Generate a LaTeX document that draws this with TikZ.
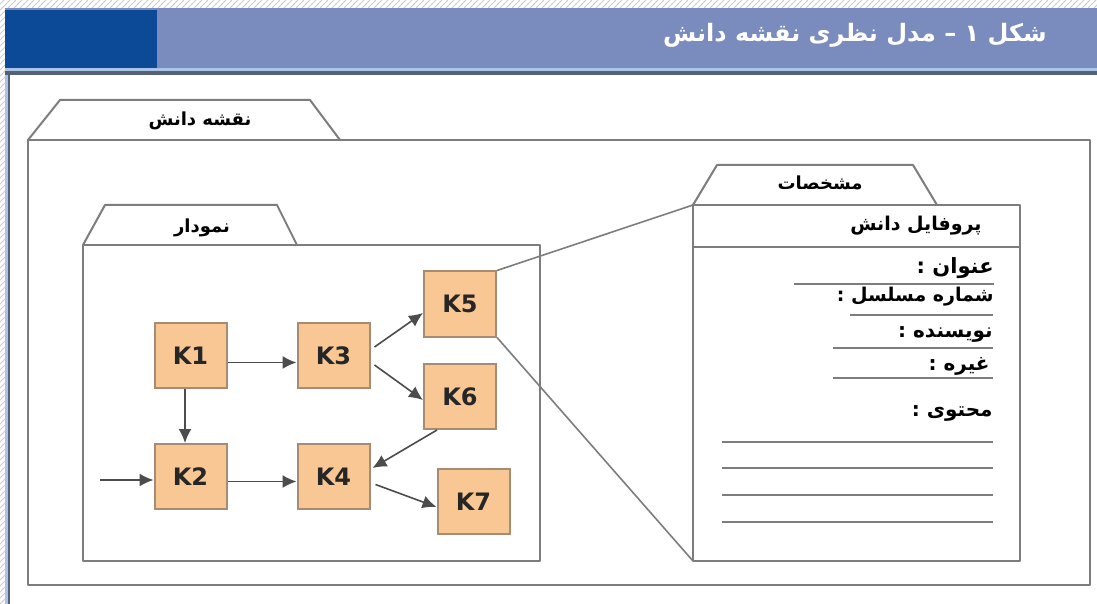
\documentclass[tikz,border=0pt]{standalone}
\usepackage{fontspec}
\usetikzlibrary{positioning, calc, arrows.meta, patterns}
\TeXXeTstate=1
\newfontfamily\arabicfont[Script=Arabic]{DejaVu Sans}
\newfontfamily\kfont{DejaVu Sans}
\definecolor{headblue}{RGB}{122,139,189}
\definecolor{darkblue}{RGB}{12,74,152}
\definecolor{stripeblue}{RGB}{170,195,230}
\definecolor{edgegray}{RGB}{84,98,118}
\definecolor{peach}{RGB}{249,199,148}
\definecolor{peachedge}{RGB}{165,140,115}
\definecolor{framegray}{RGB}{125,125,125}
\tikzset{
    kbox/.style={draw=peachedge, fill=peach, line width=1pt, minimum width=36pt, minimum height=32.5pt,
        font=\kfont\bfseries\fontsize{12}{14}\selectfont, text=black!85},
    flow/.style={-{Latex[length=7pt,width=6.5pt]}, draw=black!70, line width=0.8pt},
    folder/.style={draw=framegray, line width=1pt, line join=round},
    rule/.style={draw=framegray, line width=0.9pt},
    fa/.style={font=\arabicfont\bfseries\fontsize{#1}{#1}\selectfont, inner sep=0pt},
    fa/.default=9
}

\begin{document}
\begin{tikzpicture}[x=0.5pt, y=-0.5pt]
        \useasboundingbox (0,0) rectangle (1097,604);
        %Background and header
        \fill[white] (0,0) rectangle (1097,604);
        \fill[pattern=north east lines, pattern color=gray!40] (0,0) rectangle (1097,8);
        \fill[pattern=north east lines, pattern color=gray!40] (0,8) rectangle (5,604);
        \fill[headblue] (5,8) rectangle (1097,68);
        \fill[darkblue] (5,10) rectangle (157,68);
        \fill[stripeblue] (5,68) rectangle (1097,71);
        \fill[edgegray] (5,71) rectangle (1097,75);
        \fill[stripeblue] (5,75) rectangle (8,604);
        \fill[edgegray] (8,75) rectangle (10,604);
        \node[fa=12, text=white, anchor=east] (title) at (1047,35) {\beginR شکل ۱ – مدل نظری نقشه دانش\endR};
        %Frames
        \coordinate (mapNW) at (28,140); \coordinate (mapSE) at (1090,585);
        \coordinate (graphNW) at (83,245); \coordinate (graphSE) at (540,561);
        \coordinate (profNW) at (693,205); \coordinate (profSE) at (1020,561);
        \draw[folder] (mapNW) rectangle (mapSE);
        \draw[folder] (mapNW) -- (60,100) -- (310,100) -- (340,140);
        \node[fa] (maptab) at (200,121) {\beginR نقشه دانش\endR};
        \draw[folder] (graphNW) rectangle (graphSE);
        \draw[folder] (graphNW) -- (105,205) -- (277,205) -- (297,245);
        \node[fa] (graphtab) at (202,228) {\beginR نمودار\endR};
        \draw[folder] (profNW) rectangle (profSE);
        \draw[folder] (profNW) -- (717,165) -- (913,165) -- (937,205);
        \node[fa] (proftab) at (820,183) {\beginR مشخصات\endR};
        \draw[folder] (693,247) -- (1020,247);
        \node[fa=9.5, anchor=east] (proftitle) at (982,226) {\beginR پروفایل دانش\endR};
        %Profile fields
        \node[fa=10.5, anchor=east] (fTitle) at (994,268) {\beginR عنوان :\endR};
        \node[fa=9.5, anchor=east] (fSerial) at (994,297) {\beginR شماره مسلسل :\endR};
        \node[fa=10, anchor=east] (fAuthor) at (993,334) {\beginR نویسنده :\endR};
        \node[fa=10, anchor=east] (fOther) at (990,366) {\beginR غیره :\endR};
        \node[fa=10, anchor=east] (fContent) at (993,413) {\beginR محتوی :\endR};
        \draw[rule] (794,284) -- (994,284);
        \draw[rule] (850,315) -- (993,315);
        \draw[rule] (833,348) -- (993,348);
        \draw[rule] (833,378) -- (993,378);
        \foreach \y in {442,468,495,522}{
            \draw[rule] (722,\y) -- (993,\y);
        }
        %Knowledge nodes
        \node[kbox] (k1) at (190.5,355.5) {K1};
        \node[kbox, right=34.5pt of k1] (k3) {K3};
        \node[kbox, below=27pt of k1] (k2) {K2};
        \node[kbox, right=34.5pt of k2] (k4) {K4};
        \node[kbox] (k5) at (460,304) {K5};
        \node[kbox] (k6) at (460,396.5) {K6};
        \node[kbox] (k7) at (473.5,501.5) {K7};
        \coordinate (in) at (100,480);
        %Paths
        \draw[flow] ([yshift=-3.5pt]k1.east) -- ([yshift=-3.5pt]k3.west);
        \draw[flow] ([xshift=-2.75pt]k1.south) -- ([xshift=-2.75pt]k2.north);
        \draw[flow] (in) -- (in -| k2.west);
        \draw[flow] ([yshift=-2.5pt]k2.east) -- ([yshift=-2.5pt]k4.west);
        \draw[flow] ([xshift=2pt,yshift=4.25pt]k3.east) -- ([yshift=-4.5pt]k5.west);
        \draw[flow] ([xshift=2pt,yshift=-4.75pt]k3.east) -- ([yshift=-1.75pt]k6.west);
        \draw[flow] ([xshift=7pt]k6.south west) -- ([xshift=1pt,yshift=-12.5pt]k4.north east);
        \draw[flow] ([xshift=2.5pt,yshift=-4pt]k4.east) -- ([yshift=-2.75pt]k7.west);
        %Links to profile
        \draw[folder, line width=0.8pt] (k5.north east) -- (profNW);
        \draw[folder, line width=0.8pt] (k5.south east) -- (profNW |- profSE);
\end{tikzpicture}
\end{document}
